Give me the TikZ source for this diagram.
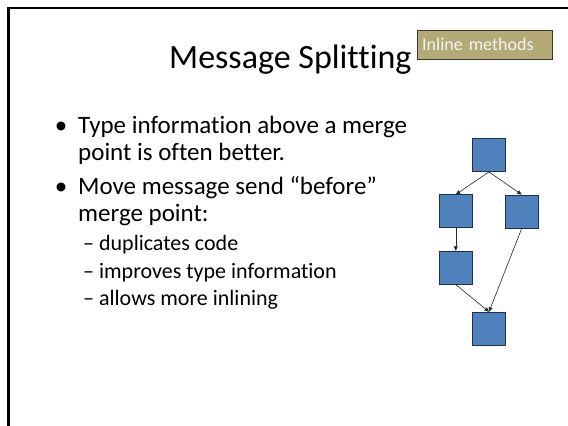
\documentclass[tikz,border=0pt]{standalone}
\usepackage{fontspec}
\setmainfont{Carlito}[Ligatures=NoCommon]
\usetikzlibrary{arrows.meta}
\definecolor{boxblue}{RGB}{79,129,189}
\definecolor{boxedge}{RGB}{30,50,80}
\definecolor{tagfill}{RGB}{180,170,118}
\definecolor{tagedge}{RGB}{60,55,40}
\definecolor{tagtext}{RGB}{245,245,240}
\tikzset{
  flowbox/.style={draw=boxedge, line width=0.8pt, fill=boxblue, minimum width=33pt, minimum height=33pt, inner sep=0pt},
  flowarrow/.style={draw=black!85, line width=0.6pt, -{Triangle[length=4.5pt,width=4pt]}},
  bodytext/.style={anchor=base west, inner sep=0pt, font=\fontsize{25}{29}\selectfont},
  subtext/.style={anchor=base west, inner sep=0pt, font=\fontsize{22}{26}\selectfont},
}
\begin{document}
\begin{tikzpicture}[x=1pt,y=-1pt]
\useasboundingbox (0,0) rectangle (568,426);
\fill[white] (0,0) rectangle (568,426);
% slide frame
\draw[line width=2.5pt] (8.7,426) -- (8.7,7.8) -- (568,7.8);
% title and tag
\node[anchor=base west, inner sep=0pt, font=\fontsize{34}{40}\selectfont] (title) at (169,68) {Message Splitting};
\node[draw=tagedge, line width=0.8pt, fill=tagfill, text=tagtext, font=\fontsize{18}{21}\selectfont,
      minimum height=29pt, inner xsep=5pt, inner ysep=0pt, text width=125pt, align=left] (tag) at (484.7,44.6) {Inline methods};
% bullet list
\node[anchor=base, inner sep=0pt, font=\fontsize{25}{29}\selectfont] (b1) at (61,133) {•};
\node[bodytext] (t1a) at (78,133) {Type information above a merge};
\node[bodytext] (t1b) at (78,160) {point is often better.};
\node[anchor=base, inner sep=0pt, font=\fontsize{25}{29}\selectfont] (b2) at (61,194) {•};
\node[bodytext] (t2a) at (78,194) {Move message send “before”};
\node[bodytext] (t2b) at (78,221) {merge point:};
\node[subtext] (s1) at (83,250) {– duplicates code};
\node[subtext] (s2) at (83,278) {– improves type information};
\node[subtext] (s3) at (83,305) {– allows more inlining};
% control flow graph
\node[flowbox] (top) at (489,155) {};
\node[flowbox] (ml) at (455.8,211.3) {};
\node[flowbox] (mr) at (521.7,211.5) {};
\node[flowbox] (ll) at (455.8,267.7) {};
\node[flowbox] (bot) at (489,328.7) {};
\draw[flowarrow] (top.south) -- (ml.north);
\draw[flowarrow] (top.south) -- (mr.north);
\draw[flowarrow] (ml.south) -- (ll.north);
\draw[flowarrow] (ll.south) -- (bot.north);
\draw[flowarrow] (mr.south) -- (bot.north);
\end{tikzpicture}
\end{document}
